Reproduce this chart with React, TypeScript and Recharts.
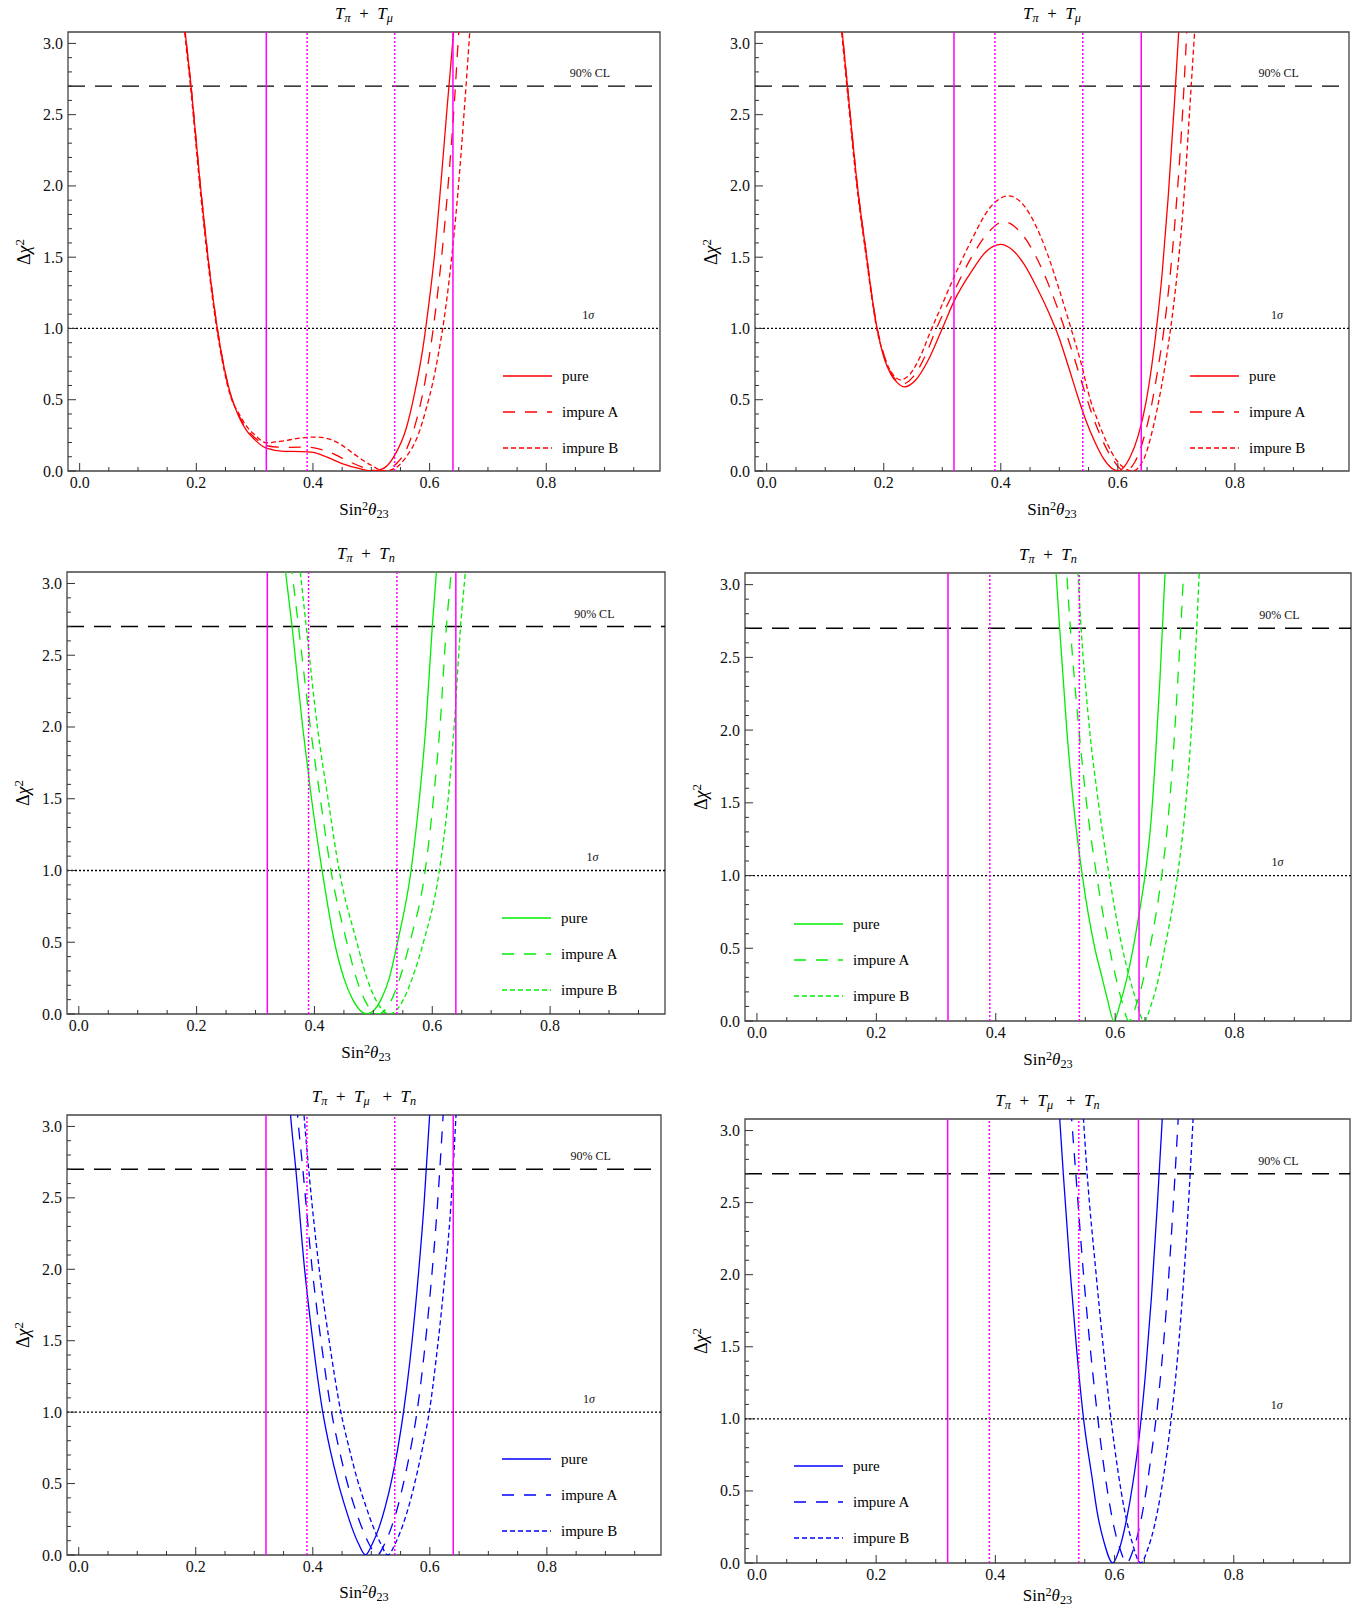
import React from "react";
import {
  LineChart,
  Line,
  XAxis,
  YAxis,
  ReferenceLine,
  ReferenceArea,
  ReferenceDot,
} from "recharts";

type Pt = [number, number];

// axis setup shared by all six panels
const X_DOMAIN: [number, number] = [-0.02, 0.995];
const Y_DOMAIN: [number, number] = [0, 3.08];
const X_TICKS = [0, 0.05, 0.1, 0.15, 0.2, 0.25, 0.3, 0.35, 0.4, 0.45, 0.5, 0.55, 0.6, 0.65, 0.7, 0.75, 0.8, 0.85, 0.9, 0.95];
const X_LABELED = [0, 0.2, 0.4, 0.6, 0.8];
const Y_TICKS = [0, 0.1, 0.2, 0.3, 0.4, 0.5, 0.6, 0.7, 0.8, 0.9, 1, 1.1, 1.2, 1.3, 1.4, 1.5, 1.6, 1.7, 1.8, 1.9, 2, 2.1, 2.2, 2.3, 2.4, 2.5, 2.6, 2.7, 2.8, 2.9, 3];
const Y_LABELED = [0, 0.5, 1, 1.5, 2, 2.5, 3];

const CL_90 = 2.7;
const ONE_SIGMA = 1.0;
const BOUNDS_SOLID = [0.32, 0.64];
const BOUNDS_DOTTED = [0.39, 0.54];
const NOTES = [
  { x: 0.875, y: 2.79, text: "90% CL" },
  { x: 0.872, y: 1.095, text: "1σ" },
];
const SERIES_NAMES = ["pure", "impure A", "impure B"];

// Tpi + Tmu, left
const p1Pure: Pt[] = [[0.176,3.3],[0.181,3.08],[0.191,2.7],[0.207,2.0],[0.220,1.5],[0.236,1.0],[0.248,0.72],[0.260,0.52],[0.272,0.39],[0.285,0.29],[0.300,0.22],[0.320,0.16],[0.350,0.138],[0.380,0.136],[0.400,0.130],[0.420,0.105],[0.450,0.052],[0.480,0.016],[0.502,0.0],[0.520,0.016],[0.540,0.11],[0.560,0.30],[0.575,0.56],[0.588,0.85],[0.598,1.15],[0.608,1.5],[0.619,2.0],[0.630,2.55],[0.641,3.08],[0.645,3.3]];
const p1ImpA: Pt[] = [[0.176,3.3],[0.181,3.08],[0.191,2.7],[0.207,2.0],[0.220,1.5],[0.236,1.0],[0.248,0.72],[0.260,0.52],[0.272,0.40],[0.285,0.30],[0.300,0.235],[0.320,0.178],[0.350,0.166],[0.390,0.167],[0.410,0.155],[0.430,0.13],[0.460,0.07],[0.490,0.02],[0.512,0.0],[0.530,0.015],[0.545,0.06],[0.560,0.15],[0.575,0.32],[0.590,0.58],[0.600,0.82],[0.610,1.12],[0.620,1.48],[0.631,1.97],[0.643,2.62],[0.650,3.08],[0.654,3.3]];
const p1ImpB: Pt[] = [[0.175,3.3],[0.180,3.08],[0.190,2.7],[0.206,2.0],[0.219,1.5],[0.235,1.0],[0.247,0.72],[0.259,0.52],[0.272,0.41],[0.285,0.32],[0.300,0.255],[0.320,0.198],[0.350,0.212],[0.380,0.232],[0.405,0.238],[0.430,0.222],[0.450,0.18],[0.470,0.12],[0.500,0.04],[0.522,0.0],[0.540,0.018],[0.560,0.10],[0.580,0.25],[0.595,0.45],[0.606,0.63],[0.615,0.82],[0.625,1.07],[0.636,1.43],[0.648,1.93],[0.661,2.62],[0.670,3.15]];

// Tpi + Tmu, right
const p2Pure: Pt[] = [[0.124,3.3],[0.129,3.08],[0.138,2.7],[0.155,2.0],[0.171,1.5],[0.180,1.22],[0.190,0.97],[0.200,0.80],[0.212,0.68],[0.223,0.62],[0.235,0.59],[0.255,0.64],[0.275,0.77],[0.300,1.0],[0.320,1.19],[0.350,1.40],[0.375,1.54],[0.400,1.59],[0.420,1.55],[0.440,1.45],[0.460,1.30],[0.480,1.13],[0.500,0.93],[0.515,0.74],[0.531,0.53],[0.545,0.36],[0.560,0.21],[0.575,0.09],[0.600,0.0],[0.620,0.09],[0.635,0.25],[0.648,0.48],[0.658,0.74],[0.666,1.0],[0.676,1.4],[0.686,1.92],[0.697,2.6],[0.705,3.15]];
const p2ImpA: Pt[] = [[0.124,3.3],[0.129,3.08],[0.138,2.7],[0.155,2.0],[0.171,1.5],[0.180,1.22],[0.190,0.98],[0.200,0.82],[0.211,0.70],[0.221,0.635],[0.232,0.61],[0.250,0.66],[0.270,0.80],[0.290,1.0],[0.320,1.26],[0.350,1.50],[0.380,1.68],[0.405,1.75],[0.425,1.71],[0.450,1.58],[0.470,1.42],[0.490,1.22],[0.509,1.0],[0.525,0.80],[0.540,0.60],[0.555,0.41],[0.570,0.25],[0.590,0.09],[0.612,0.0],[0.630,0.07],[0.645,0.24],[0.658,0.47],[0.669,0.73],[0.679,1.0],[0.689,1.36],[0.699,1.82],[0.709,2.4],[0.718,3.1]];
const p2ImpB: Pt[] = [[0.123,3.3],[0.128,3.08],[0.137,2.7],[0.154,2.0],[0.170,1.5],[0.179,1.23],[0.188,1.0],[0.198,0.84],[0.208,0.73],[0.218,0.665],[0.228,0.64],[0.245,0.68],[0.262,0.80],[0.280,0.98],[0.300,1.17],[0.320,1.36],[0.350,1.62],[0.380,1.84],[0.413,1.93],[0.440,1.86],[0.460,1.72],[0.480,1.52],[0.500,1.27],[0.520,1.0],[0.537,0.76],[0.553,0.5],[0.566,0.35],[0.580,0.21],[0.597,0.08],[0.625,0.0],[0.645,0.09],[0.660,0.3],[0.674,0.58],[0.685,0.85],[0.694,1.12],[0.703,1.45],[0.713,1.92],[0.723,2.55],[0.733,3.2]];

// Tpi + Tn, left
const p3Pure: Pt[] = [[0.345,3.3],[0.351,3.08],[0.362,2.7],[0.380,2.0],[0.395,1.5],[0.413,1.0],[0.434,0.5],[0.450,0.25],[0.465,0.1],[0.489,0.0],[0.513,0.1],[0.527,0.25],[0.541,0.5],[0.564,1.0],[0.578,1.5],[0.589,2.0],[0.600,2.7],[0.607,3.08],[0.611,3.3]];
const p3ImpA: Pt[] = [[0.356,3.3],[0.362,3.08],[0.373,2.7],[0.393,2.0],[0.410,1.5],[0.428,1.0],[0.455,0.5],[0.471,0.25],[0.485,0.1],[0.508,0.0],[0.531,0.1],[0.545,0.25],[0.562,0.5],[0.588,1.0],[0.602,1.5],[0.613,2.0],[0.624,2.7],[0.632,3.08],[0.636,3.3]];
const p3ImpB: Pt[] = [[0.370,3.3],[0.376,3.08],[0.386,2.7],[0.405,2.0],[0.423,1.5],[0.442,1.0],[0.472,0.5],[0.489,0.25],[0.504,0.1],[0.527,0.0],[0.551,0.1],[0.566,0.25],[0.585,0.5],[0.612,1.0],[0.627,1.5],[0.637,2.0],[0.648,2.7],[0.656,3.08],[0.660,3.3]];

// Tpi + Tn, right
const p4Pure: Pt[] = [[0.497,3.3],[0.501,3.08],[0.507,2.7],[0.519,2.0],[0.530,1.5],[0.545,1.0],[0.566,0.5],[0.578,0.3],[0.587,0.15],[0.598,0.0],[0.609,0.13],[0.620,0.3],[0.631,0.52],[0.641,0.76],[0.650,1.0],[0.660,1.37],[0.668,1.85],[0.675,2.35],[0.682,2.95],[0.686,3.3]];
const p4ImpA: Pt[] = [[0.517,3.2],[0.525,2.7],[0.538,2.06],[0.552,1.5],[0.569,1.0],[0.588,0.55],[0.600,0.32],[0.611,0.14],[0.623,0.0],[0.636,0.12],[0.648,0.3],[0.659,0.52],[0.669,0.75],[0.678,1.0],[0.688,1.36],[0.697,1.82],[0.705,2.35],[0.713,2.95],[0.717,3.3]];
const p4ImpB: Pt[] = [[0.536,3.2],[0.543,2.7],[0.556,2.05],[0.572,1.5],[0.590,1.0],[0.611,0.52],[0.624,0.3],[0.636,0.13],[0.648,0.0],[0.661,0.12],[0.673,0.3],[0.684,0.52],[0.695,0.76],[0.705,1.02],[0.716,1.4],[0.726,1.9],[0.733,2.4],[0.741,3.1]];

// Tpi + Tmu + Tn, left
const p5Pure: Pt[] = [[0.358,3.3],[0.362,3.08],[0.371,2.7],[0.386,2.0],[0.400,1.5],[0.417,1.0],[0.430,0.73],[0.443,0.51],[0.455,0.34],[0.467,0.19],[0.478,0.08],[0.490,0.0],[0.502,0.08],[0.513,0.19],[0.524,0.34],[0.535,0.53],[0.545,0.74],[0.555,1.0],[0.566,1.36],[0.578,1.85],[0.590,2.45],[0.600,3.1]];
const p5ImpA: Pt[] = [[0.370,3.3],[0.374,3.08],[0.383,2.7],[0.399,2.0],[0.414,1.5],[0.432,1.0],[0.445,0.74],[0.458,0.52],[0.471,0.34],[0.484,0.19],[0.497,0.07],[0.510,0.0],[0.523,0.08],[0.534,0.19],[0.546,0.35],[0.557,0.54],[0.568,0.76],[0.578,1.0],[0.589,1.36],[0.601,1.85],[0.613,2.45],[0.623,3.1]];
const p5ImpB: Pt[] = [[0.381,3.3],[0.385,3.08],[0.393,2.7],[0.411,2.0],[0.428,1.5],[0.448,1.0],[0.462,0.75],[0.476,0.53],[0.490,0.35],[0.503,0.2],[0.516,0.08],[0.528,0.0],[0.541,0.08],[0.553,0.2],[0.566,0.37],[0.578,0.57],[0.589,0.78],[0.599,1.0],[0.611,1.38],[0.624,1.88],[0.636,2.45],[0.645,3.1]];

// Tpi + Tmu + Tn, right
const p6Pure: Pt[] = [[0.504,3.3],[0.508,3.08],[0.514,2.7],[0.526,2.0],[0.536,1.5],[0.548,1.0],[0.562,0.6],[0.571,0.35],[0.582,0.15],[0.597,0.0],[0.609,0.11],[0.620,0.3],[0.631,0.56],[0.642,0.9],[0.652,1.32],[0.662,1.85],[0.672,2.5],[0.681,3.15]];
const p6ImpA: Pt[] = [[0.524,3.3],[0.528,3.08],[0.535,2.7],[0.548,2.0],[0.559,1.5],[0.572,1.0],[0.581,0.7],[0.590,0.45],[0.599,0.25],[0.609,0.1],[0.620,0.0],[0.632,0.1],[0.643,0.27],[0.653,0.5],[0.662,0.76],[0.671,1.05],[0.680,1.42],[0.689,1.88],[0.698,2.45],[0.707,3.1]];
const p6ImpB: Pt[] = [[0.546,3.2],[0.554,2.7],[0.568,2.05],[0.581,1.5],[0.594,1.0],[0.606,0.63],[0.617,0.36],[0.629,0.15],[0.644,0.0],[0.656,0.1],[0.667,0.26],[0.677,0.47],[0.686,0.71],[0.695,1.0],[0.704,1.35],[0.713,1.8],[0.722,2.35],[0.732,3.1]];

const FONT = '"Liberation Serif", "Times New Roman", serif';
const RED = "#ff0000";
const GREEN = "#00ee00";
const BLUE = "#0000ff";
const MAGENTA = "#ff00ff";
const DASHES = [undefined, "12 10", "5 3"];

// chart margins around the plot box
const YW = 60;
const MT = 30;
const XH = 48;

const Sub = ({ children }: { children: React.ReactNode }) => (
  <span style={{ fontSize: "0.72em", verticalAlign: "-0.28em", lineHeight: 0 }}>{children}</span>
);

const T = ({ s }: { s: string }) => (
  <>
    <i>T</i>
    <Sub>
      <i>{s}</i>
    </Sub>
  </>
);

const titleMuPi = (
  <>
    <T s="π" />
    {"\u00a0 + \u00a0"}
    <T s="μ" />
  </>
);
const titlePiN = (
  <>
    <T s="π" />
    {"\u00a0 + \u00a0"}
    <T s="n" />
  </>
);
const titleAll = (
  <>
    <T s="π" />
    {"\u00a0 + \u00a0"}
    <T s="μ" />
    {"\u00a0\u00a0 + \u00a0"}
    <T s="n" />
  </>
);

type Panel = {
  title: React.ReactNode;
  color: string;
  series: Pt[][];
  box: [number, number, number, number]; // left, top, right, bottom on page
  legend: [number, number]; // offset inside plot box
  xLabelGap: number;
};

const PANELS: Panel[] = [
  { title: titleMuPi, color: RED, series: [p1Pure, p1ImpA, p1ImpB], box: [68, 32, 660, 471], legend: [435, 326], xLabelGap: 29 },
  { title: titleMuPi, color: RED, series: [p2Pure, p2ImpA, p2ImpB], box: [755, 32, 1349, 471], legend: [435, 326], xLabelGap: 29 },
  { title: titlePiN, color: GREEN, series: [p3Pure, p3ImpA, p3ImpB], box: [67, 572, 665, 1014], legend: [435, 328], xLabelGap: 29 },
  { title: titlePiN, color: GREEN, series: [p4Pure, p4ImpA, p4ImpB], box: [745, 573, 1351, 1021], legend: [49, 333], xLabelGap: 29 },
  { title: titleAll, color: BLUE, series: [p5Pure, p5ImpA, p5ImpB], box: [67, 1115, 661, 1555], legend: [435, 326], xLabelGap: 28 },
  { title: titleAll, color: BLUE, series: [p6Pure, p6ImpA, p6ImpB], box: [745, 1119, 1350, 1563], legend: [49, 329], xLabelGap: 23 },
];

const near = (list: number[], v: number) => list.some((t) => Math.abs(t - v) < 1e-6);

const XTick = (props: any) => {
  const { x, y, payload } = props;
  const v = payload.value as number;
  const major = near(X_LABELED, v);
  return (
    <g>
      <line x1={x} x2={x} y1={y} y2={y - (major ? 8 : 4)} stroke="#333" strokeWidth={1} />
      {major && (
        <text x={x} y={y + 17} textAnchor="middle" fontSize={16} fontFamily={FONT} fill="#111">
          {v.toFixed(1)}
        </text>
      )}
    </g>
  );
};

const YTick = (props: any) => {
  const { x, y, payload } = props;
  const v = payload.value as number;
  const major = near(Y_LABELED, v);
  return (
    <g>
      <line x1={x} x2={x + (major ? 8 : 4)} y1={y} y2={y} stroke="#333" strokeWidth={1} />
      {major && (
        <text x={x - 5} y={y + 5.5} textAnchor="end" fontSize={16} fontFamily={FONT} fill="#111">
          {v.toFixed(1)}
        </text>
      )}
    </g>
  );
};

const NoteLabel = (props: any) => {
  const { viewBox, text } = props;
  const cx = viewBox?.x ?? 0;
  const cy = viewBox?.y ?? 0;
  if (text === "1σ") {
    return (
      <text x={cx} y={cy + 4} textAnchor="middle" fontSize={12} fontFamily={FONT} fill="#111">
        1<tspan fontStyle="italic">σ</tspan>
      </text>
    );
  }
  return (
    <text x={cx} y={cy + 4} textAnchor="middle" fontSize={12} fontFamily={FONT} fill="#111">
      {text}
    </text>
  );
};

function PanelChart({ p }: { p: Panel }) {
  const [l, t, r, b] = p.box;
  const bw = r - l;
  const bh = b - t;
  const w = bw + YW + 1;
  const h = bh + MT + XH;
  return (
    <div style={{ position: "absolute", left: l - YW, top: t - MT, width: w, height: h }}>
      <LineChart width={w} height={h} margin={{ top: MT, right: 1, bottom: 0, left: 0 }}>
        <XAxis
          type="number"
          dataKey="x"
          domain={X_DOMAIN}
          ticks={X_TICKS}
          interval={0}
          allowDataOverflow
          tick={<XTick />}
          tickSize={0}
          tickMargin={0}
          tickLine={false}
          axisLine={false}
          height={XH}
        />
        <YAxis
          type="number"
          domain={Y_DOMAIN}
          ticks={Y_TICKS}
          interval={0}
          allowDataOverflow
          tick={<YTick />}
          tickSize={0}
          tickMargin={0}
          tickLine={false}
          axisLine={false}
          width={YW}
        />
        <ReferenceArea
          x1={X_DOMAIN[0]}
          x2={X_DOMAIN[1]}
          y1={Y_DOMAIN[0]}
          y2={Y_DOMAIN[1]}
          ifOverflow="visible"
          fill="none"
          fillOpacity={0}
          stroke="#444"
          strokeWidth={1.3}
        />
        <ReferenceLine y={CL_90} stroke="#000" strokeWidth={1.4} strokeDasharray="17 10" />
        <ReferenceLine y={ONE_SIGMA} stroke="#000" strokeWidth={1.3} strokeDasharray="2 2" />
        {p.series.map((pts, i) => (
          <Line
            key={SERIES_NAMES[i]}
            name={SERIES_NAMES[i]}
            data={pts.map(([x, y]) => ({ x, y }))}
            dataKey="y"
            type="monotone"
            stroke={p.color}
            strokeWidth={1.3}
            strokeDasharray={DASHES[i]}
            dot={false}
            activeDot={false}
            isAnimationActive={false}
          />
        ))}
        {BOUNDS_SOLID.map((x) => (
          <ReferenceLine key={"s" + x} x={x} stroke={MAGENTA} strokeWidth={1.5} />
        ))}
        {BOUNDS_DOTTED.map((x) => (
          <ReferenceLine key={"d" + x} x={x} stroke={MAGENTA} strokeWidth={1.5} strokeDasharray="2 2" />
        ))}
        {NOTES.map((n) => (
          <ReferenceDot
            key={n.text}
            x={n.x}
            y={n.y}
            r={0}
            fill="none"
            stroke="none"
            label={<NoteLabel text={n.text} />}
          />
        ))}
      </LineChart>

      <div
        style={{
          position: "absolute",
          left: YW,
          width: bw,
          top: 2,
          height: 20,
          lineHeight: "20px",
          textAlign: "center",
          fontFamily: FONT,
          fontSize: 17,
          whiteSpace: "nowrap",
        }}
      >
        {p.title}
      </div>

      <div
        style={{
          position: "absolute",
          left: YW,
          width: bw,
          top: MT + bh + p.xLabelGap,
          height: 20,
          lineHeight: "20px",
          textAlign: "center",
          fontFamily: FONT,
          fontSize: 17,
          whiteSpace: "nowrap",
        }}
      >
        Sin
        <span style={{ fontSize: "0.72em", verticalAlign: "0.45em", lineHeight: 0 }}>2</span>
        <i>θ</i>
        <Sub>23</Sub>
      </div>

      <div
        style={{
          position: "absolute",
          left: YW - 44 - 30,
          top: MT + bh / 2 - 10,
          width: 60,
          height: 20,
          lineHeight: "20px",
          textAlign: "center",
          fontFamily: FONT,
          fontSize: 18,
          transform: "rotate(-90deg)",
          whiteSpace: "nowrap",
        }}
      >
        Δ<i>χ</i>
        <span style={{ fontSize: "0.72em", verticalAlign: "0.5em", lineHeight: 0 }}>2</span>
      </div>

      <div
        style={{
          position: "absolute",
          left: YW + p.legend[0],
          top: MT + p.legend[1],
          fontFamily: FONT,
          fontSize: 15,
        }}
      >
        {SERIES_NAMES.map((n, i) => (
          <div key={n} style={{ display: "flex", alignItems: "center", height: 36, whiteSpace: "nowrap" }}>
            <svg width={49} height={4} style={{ display: "block" }}>
              <line x1={0} x2={49} y1={2} y2={2} stroke={p.color} strokeWidth={1.4} strokeDasharray={DASHES[i]} />
            </svg>
            <span style={{ marginLeft: 10, lineHeight: "16px" }}>{n}</span>
          </div>
        ))}
      </div>
    </div>
  );
}

export default function App() {
  return (
    <div
      style={{
        position: "absolute",
        left: 0,
        top: 0,
        width: 1352,
        height: 1612,
        overflow: "hidden",
        background: "#fff",
      }}
    >
      {PANELS.map((p, i) => (
        <PanelChart key={i} p={p} />
      ))}
    </div>
  );
}
